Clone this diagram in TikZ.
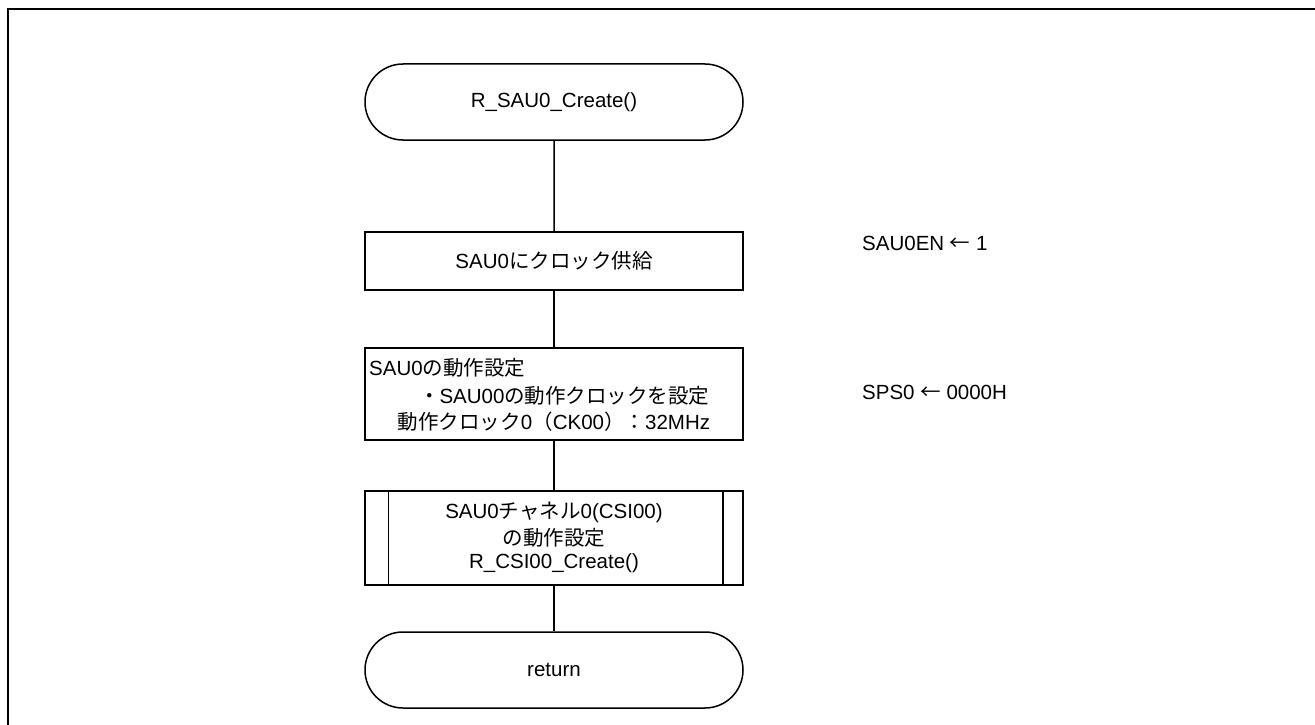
\documentclass[tikz,border=0pt]{standalone}
\usepackage{fontspec}
\setmainfont{Liberation Sans}
\newfontfamily\jp{Noto Sans CJK JP}
\usetikzlibrary{shapes.misc}
\begin{document}
\begin{tikzpicture}[x=1pt,y=-1pt,
  every node/.style={font=\fontsize{20.5}{24}\selectfont, inner sep=0pt},
  term/.style={draw, line width=1.5pt, rounded rectangle, minimum width=378pt, minimum height=76pt},
  proc/.style={draw, line width=1.5pt, rectangle, minimum width=378pt},
  conn/.style={line width=1.5pt},
  note/.style={anchor=west}]
\useasboundingbox (0,0) rectangle (1315,725);
\draw[line width=2.2pt] (8,726) -- (8,9) -- (1316,9);

\node[term] (start) at (554,102) {R\_SAU0\_Create()};
\node[proc, minimum height=58pt] (b1) at (554,261) {SAU0{\jp にクロック供給}};
\node[proc, minimum height=92pt] (b2) at (554,394) {};
\node[anchor=west] (b2a) at (369,368) {SAU0{\jp の動作設定}};
\node (b2b) at (554,396) {{\jp 　・}SAU00{\jp の動作クロックを設定}};
\node (b2c) at (554,422) {{\jp 動作クロック}0{\jp （}CK00{\jp ）：}32MHz};
\node[proc, minimum height=94pt] (b3) at (554,538) {};
\draw[conn] ([xshift=24pt]b3.north west) -- ([xshift=24pt]b3.south west);
\draw[conn] ([xshift=-21pt]b3.north east) -- ([xshift=-21pt]b3.south east);
\node (b3a) at (554,512) {SAU0{\jp チャネル}0(CSI00)};
\node (b3b) at (554,538) {\jp の動作設定};
\node (b3c) at (554,563) {R\_CSI00\_Create()};
\node[term] (ret) at (554,670) {return};

\draw[conn] (start) -- (b1);
\draw[conn] (b1) -- (b2);
\draw[conn] (b2) -- (b3);
\draw[conn] (b3) -- (ret);

\node[note] (n1) at (862,243) {SAU0EN {\jp ←} 1};
\node[note] (n2) at (862,392) {SPS0 {\jp ←} 0000H};
\end{tikzpicture}
\end{document}
